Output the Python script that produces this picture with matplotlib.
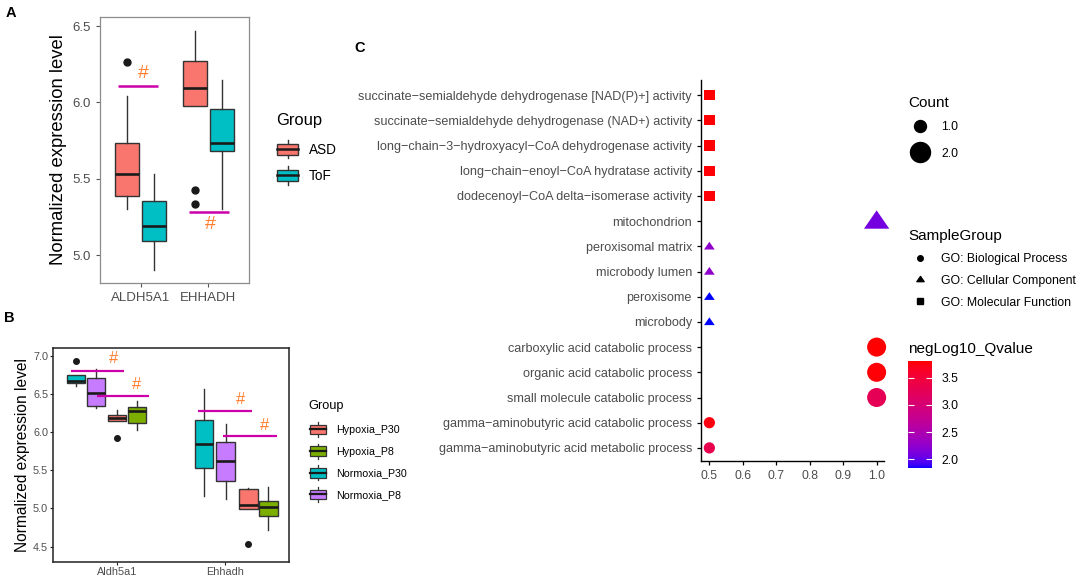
"""
Three-panel figure: two boxplot panels (A, B) and a GO enrichment dot plot (C).
"""
import numpy as np
import matplotlib
matplotlib.use("Agg")
import matplotlib.pyplot as plt
from matplotlib.patches import Rectangle
from matplotlib.lines import Line2D
from matplotlib.legend_handler import HandlerBase
from matplotlib.colors import ListedColormap, Normalize
from matplotlib.path import Path

plt.rcParams["font.family"] = ["Liberation Sans", "DejaVu Sans"]

# ── Panel A data (box stats: whislo, q1, median, q3, whishi) ──────────────────
A_GENES = ["ALDH5A1", "EHHADH"]
A_GROUPS = ["ASD", "ToF"]
asd_stats = [[5.30, 5.39, 5.53, 5.735, 6.04], [5.975, 5.977, 6.095, 6.27, 6.47]]
tof_stats = [[4.905, 5.095, 5.193, 5.356, 5.533], [5.30, 5.68, 5.735, 5.955, 6.147]]
asd_fliers = [[6.265], [5.428, 5.336]]
tof_fliers = [[], []]
a_sig_y = [6.11, 5.284]
a_hash_y = [6.19, 5.20]

# ── Panel B data ───────────────────────────────────────────────────────────────
B_GENES = ["Aldh5a1", "Ehhadh"]
B_GROUPS = ["Hypoxia_P30", "Hypoxia_P8", "Normoxia_P30", "Normoxia_P8"]
hyp_p30_stats = [[6.149, 6.149, 6.185, 6.224, 6.289], [4.99, 4.99, 5.042, 5.251, 5.272]]
hyp_p8_stats = [[6.027, 6.119, 6.28, 6.329, 6.403], [4.722, 4.902, 5.024, 5.102, 5.277]]
nor_p30_stats = [[6.607, 6.647, 6.673, 6.751, 6.751], [5.16, 5.526, 5.844, 6.154, 6.56]]
nor_p8_stats = [[6.315, 6.338, 6.508, 6.708, 6.822], [5.128, 5.364, 5.622, 5.871, 6.10]]
hyp_p30_fliers = [[5.919], [4.535]]
hyp_p8_fliers = [[], []]
nor_p30_fliers = [[6.93], []]
nor_p8_fliers = [[], []]
b_sig_y = [[6.80, 6.476], [6.276, 5.953]]
b_hash_y = [[6.96, 6.62], [6.42, 6.09]]

# ── Panel C data (top to bottom) ───────────────────────────────────────────────
c_terms = [
    "succinate\u2212semialdehyde dehydrogenase [NAD(P)+] activity",
    "succinate\u2212semialdehyde dehydrogenase (NAD+) activity",
    "long\u2212chain\u22123\u2212hydroxyacyl\u2212CoA dehydrogenase activity",
    "long\u2212chain\u2212enoyl\u2212CoA hydratase activity",
    "dodecenoyl\u2212CoA delta\u2212isomerase activity",
    "mitochondrion",
    "peroxisomal matrix",
    "microbody lumen",
    "peroxisome",
    "microbody",
    "carboxylic acid catabolic process",
    "organic acid catabolic process",
    "small molecule catabolic process",
    "gamma\u2212aminobutyric acid catabolic process",
    "gamma\u2212aminobutyric acid metabolic process",
]
c_ratio = [0.5, 0.5, 0.5, 0.5, 0.5, 1.0, 0.5, 0.5, 0.5, 0.5, 1.0, 1.0, 1.0, 0.5, 0.5]
c_count = [1, 1, 1, 1, 1, 2, 1, 1, 1, 1, 2, 2, 2, 1, 1]
c_qvalue = [3.80, 3.80, 3.80, 3.79, 3.78, 2.10, 2.25, 2.25, 1.84, 1.84,
            3.81, 3.79, 3.27, 3.76, 3.32]
c_group = ["MF"] * 5 + ["CC"] * 5 + ["BP"] * 5
GROUP_LABELS = {"BP": "GO: Biological Process", "CC": "GO: Cellular Component",
                "MF": "GO: Molecular Function"}

# ── Styles ─────────────────────────────────────────────────────────────────────
A_COLORS = {"ASD": "#F8766D", "ToF": "#00BFC4"}
B_COLORS = {"Hypoxia_P30": "#F8766D", "Hypoxia_P8": "#7CAE00",
            "Normoxia_P30": "#00BFC4", "Normoxia_P8": "#C77CFF"}
A_OFFSETS = {"ASD": -0.2, "ToF": 0.2}
B_OFFSETS = {  # per gene, per group (as drawn in the original)
    "Normoxia_P30": [-0.386, -0.19], "Normoxia_P8": [-0.201, 0.009],
    "Hypoxia_P30": [-0.005, 0.222], "Hypoxia_P8": [0.181, 0.408]}
A_SIG_X = [(0.666, 1.257), (1.715, 2.305)]
A_HASH_X = [1.035, 2.025]
B_SIG_X = [[(0.568, 1.062), (0.807, 1.292)], [(1.754, 2.255), (1.987, 2.485)]]
B_HASH_X = [[0.969, 1.176], [2.152, 2.369]]
SIG_COLOR = "#CC00AA"
HASH_COLOR = "#FF7F30"
GREY_TXT = "#4D4D4D"
EDGE = "#333333"

TRI = Path([(-1, -0.6), (1, -0.6), (0, 0.85), (-1, -0.6)],
           [Path.MOVETO, Path.LINETO, Path.LINETO, Path.CLOSEPOLY])
SHAPES = {"BP": "o", "CC": TRI, "MF": "s"}
SIZE_PT = {"BP": {1: 8.1, 2: 13.7}, "CC": {1: 7.7, 2: 18.2}, "MF": {1: 7.4, 2: 10.0}}


# blue -> red gradient interpolated in Lab space (like ggplot)
_M = np.array([[0.4124, 0.3576, 0.1805], [0.2126, 0.7152, 0.0722], [0.0193, 0.1192, 0.9505]])
_WP = np.array([0.95047, 1.0, 1.08883])


def to_lab(rgb):
    c = np.asarray(rgb, float)
    lin = np.where(c <= 0.04045, c / 12.92, ((c + 0.055) / 1.055) ** 2.4)
    xyz = _M @ lin / _WP
    f = np.where(xyz > 0.008856, np.cbrt(xyz), 7.787 * xyz + 16 / 116)
    return np.array([116 * f[1] - 16, 500 * (f[0] - f[1]), 200 * (f[1] - f[2])])


def from_lab(lab):
    fy = (lab[0] + 16) / 116
    f = np.array([fy + lab[1] / 500, fy, fy - lab[2] / 200])
    xyz = np.where(f ** 3 > 0.008856, f ** 3, (f - 16 / 116) / 7.787) * _WP
    lin = np.clip(np.linalg.solve(_M, xyz), 0, 1)
    return np.clip(np.where(lin <= 0.0031308, 12.92 * lin, 1.055 * lin ** (1 / 2.4) - 0.055), 0, 1)


lab0, lab1 = to_lab([0, 0, 1]), to_lab([1, 0, 0])
CMAP = ListedColormap([from_lab(lab0 + t * (lab1 - lab0)) for t in np.linspace(0, 1, 256)])


class BoxHandler(HandlerBase):
    def __init__(self, lo=0.2, hi=0.8, lw=1.0):
        super().__init__()
        self.lo, self.hi, self.lw = lo, hi, lw

    def create_artists(self, legend, orig_handle, xdescent, ydescent, width, height, fontsize, trans):
        x0, y0 = -xdescent, -ydescent
        fc = orig_handle.get_facecolor()
        cx = x0 + width / 2
        w1 = Line2D([cx, cx], [y0, y0 + self.lo * height], color=EDGE, lw=self.lw, transform=trans)
        w2 = Line2D([cx, cx], [y0 + self.hi * height, y0 + height], color=EDGE, lw=self.lw, transform=trans)
        box = Rectangle((x0, y0 + self.lo * height), width, (self.hi - self.lo) * height,
                        facecolor=fc, edgecolor=EDGE, lw=self.lw, transform=trans)
        med = Line2D([x0, x0 + width], [y0 + height / 2] * 2, color="#1A1A1A", lw=self.lw * 1.8,
                     transform=trans)
        return [w1, w2, box, med]


def draw_boxes(ax, stats, fliers, positions, color, width, lw, flier_ms):
    bstats = [dict(whislo=s[0], q1=s[1], med=s[2], q3=s[3], whishi=s[4], fliers=f)
              for s, f in zip(stats, fliers)]
    ax.bxp(bstats, positions=positions, widths=width, patch_artist=True, showcaps=False,
           manage_ticks=False,
           boxprops=dict(facecolor=color, edgecolor=EDGE, linewidth=lw),
           medianprops=dict(color="#1A1A1A", linewidth=lw * 1.9),
           whiskerprops=dict(color=EDGE, linewidth=lw),
           flierprops=dict(marker="o", markerfacecolor="#1A1A1A", markeredgecolor="#1A1A1A",
                           markersize=flier_ms))


W, H = 1084, 578
fig = plt.figure(figsize=(W / 100, H / 100), dpi=100)


def px_axes(l, t, r, b):
    return fig.add_axes([l / W, 1 - b / H, (r - l) / W, (b - t) / H])


def fx(x):
    return x / W


def fy(y):
    return 1 - y / H


# ── Panel A ────────────────────────────────────────────────────────────────────
axA = px_axes(100, 17, 249, 283)
for grp, stats, fl in [("ASD", asd_stats, asd_fliers), ("ToF", tof_stats, tof_fliers)]:
    pos = [i + 1 + A_OFFSETS[grp] for i in range(len(A_GENES))]
    draw_boxes(axA, stats, fl, pos, A_COLORS[grp], 0.355, 1.0, 5)
for (x0, x1), y, hx, hy in zip(A_SIG_X, a_sig_y, A_HASH_X, a_hash_y):
    axA.hlines(y, x0, x1, color=SIG_COLOR, lw=1.8, zorder=5)
    axA.text(hx, hy, "#", color=HASH_COLOR, fontsize=14, ha="center", va="center", zorder=5)
axA.set_xlim(0.4, 2.6)
axA.set_ylim(4.817, 6.559)
axA.set_xticks([1, 2])
axA.set_xticklabels(A_GENES)
axA.set_yticks([5.0, 5.5, 6.0, 6.5])
axA.tick_params(labelsize=9.5, labelcolor=GREY_TXT, color="#555555", length=3, width=0.8)
axA.set_ylabel("Normalized expression level", fontsize=13.3, labelpad=4)
for sp in axA.spines.values():
    sp.set_edgecolor("#8C8C8C")
    sp.set_linewidth(0.9)

a_handles = [Rectangle((0, 0), 1, 1, facecolor=A_COLORS[g]) for g in A_GROUPS]
legA = fig.legend(a_handles, A_GROUPS, loc="upper left", bbox_to_anchor=(fx(277), fy(140)),
                  frameon=False, fontsize=9.8, handlelength=1.55, handleheight=1.7,
                  handletextpad=0.8, labelspacing=0.57, borderpad=0, borderaxespad=0,
                  handler_map={Rectangle: BoxHandler(0.2, 0.8, 1.0)})
fig.text(fx(276), fy(121), "Group", fontsize=11.9, va="center", ha="left")

# ── Panel B ────────────────────────────────────────────────────────────────────
axB = px_axes(53, 348, 289, 562)
b_series = [("Normoxia_P30", nor_p30_stats, nor_p30_fliers),
            ("Normoxia_P8", nor_p8_stats, nor_p8_fliers),
            ("Hypoxia_P30", hyp_p30_stats, hyp_p30_fliers),
            ("Hypoxia_P8", hyp_p8_stats, hyp_p8_fliers)]
for grp, stats, fl in b_series:
    pos = [i + 1 + B_OFFSETS[grp][i] for i in range(len(B_GENES))]
    draw_boxes(axB, stats, fl, pos, B_COLORS[grp], 0.172, 1.0, 4)
for gi in range(len(B_GENES)):
    for (x0, x1), y, hx, hy in zip(B_SIG_X[gi], b_sig_y[gi], B_HASH_X[gi], b_hash_y[gi]):
        axB.hlines(y, x0, x1, color=SIG_COLOR, lw=1.6, zorder=5)
        axB.text(hx, hy, "#", color=HASH_COLOR, fontsize=12, ha="center", va="center", zorder=5)
axB.set_xlim(0.4, 2.6)
axB.set_ylim(4.30, 7.10)
axB.set_xticks([1, 2])
axB.set_xticklabels(B_GENES)
axB.set_yticks([4.5, 5.0, 5.5, 6.0, 6.5, 7.0])
axB.tick_params(labelsize=7.8, labelcolor=GREY_TXT, color="#222222", length=2, width=0.8, pad=1.5)
axB.set_ylabel("Normalized expression level", fontsize=11.2, labelpad=2)
for sp in axB.spines.values():
    sp.set_edgecolor("#222222")
    sp.set_linewidth(1.1)

b_handles = [Rectangle((0, 0), 1, 1, facecolor=B_COLORS[g]) for g in B_GROUPS]
legB = fig.legend(b_handles, B_GROUPS, loc="upper left", bbox_to_anchor=(fx(310), fy(422)),
                  frameon=False, fontsize=7.7, handlelength=1.5, handleheight=1.78,
                  handletextpad=0.9, labelspacing=0.62, borderpad=0, borderaxespad=0,
                  handler_map={Rectangle: BoxHandler(0.18, 0.82, 0.9)})
fig.text(fx(308), fy(406), "Group", fontsize=9.2, va="center", ha="left")

# ── Panel C ────────────────────────────────────────────────────────────────────
axC = px_axes(701, 80, 884, 461)
n = len(c_terms)
ypos = np.arange(n)[::-1]
norm = Normalize(min(c_qvalue), max(c_qvalue))
for grp, marker in SHAPES.items():
    idx = [i for i in range(n) if c_group[i] == grp]
    axC.scatter([c_ratio[i] for i in idx], ypos[idx],
                s=[SIZE_PT[grp][c_count[i]] ** 2 for i in idx],
                c=[c_qvalue[i] for i in idx], cmap=CMAP, norm=norm, marker=marker,
                linewidths=0, zorder=3, clip_on=False)
axC.set_xlim(0.475, 1.022)
axC.set_ylim(-0.52, n - 1 + 0.6)
axC.set_yticks(ypos)
axC.set_yticklabels(c_terms, fontsize=9.1)
axC.set_xticks([0.5, 0.6, 0.7, 0.8, 0.9, 1.0])
axC.tick_params(axis="x", labelsize=8.8)
axC.tick_params(labelcolor=GREY_TXT, color="black", length=3, width=0.9)
axC.spines["top"].set_visible(False)
axC.spines["right"].set_visible(False)
for sp in ("left", "bottom"):
    axC.spines[sp].set_linewidth(1.0)

# colourbar
cax = px_axes(908, 361, 932, 468)
sm = plt.cm.ScalarMappable(norm=norm, cmap=CMAP)
cb = fig.colorbar(sm, cax=cax, ticks=[2.0, 2.5, 3.0, 3.5])
cb.outline.set_visible(False)
cb.ax.yaxis.set_ticks_position("both")
cb.ax.tick_params(direction="in", color="white", length=4, width=0.8,
                  labelsize=8.8, labelcolor="black", labelleft=False, labelright=True, pad=7)
fig.text(fx(908), fy(349), "negLog10_Qvalue", fontsize=11, va="center", ha="left")

# Count legend
cnt_handles = [Line2D([], [], ls="", marker="o", color="black", markersize=ms) for ms in (8.6, 14.4)]
fig.legend(cnt_handles, ["1.0", "2.0"], loc="upper left", bbox_to_anchor=(fx(908), fy(121)),
           frameon=False, fontsize=8.8, handlelength=2.0, handletextpad=0.74,
           labelspacing=1.2, borderpad=0, borderaxespad=0)
fig.text(fx(908), fy(103), "Count", fontsize=11, va="center", ha="left")

# SampleGroup legend
shape_handles = [Line2D([], [], ls="", marker=SHAPES[g], color="black",
                        markersize={"BP": 4.0, "CC": 5.2, "MF": 3.8}[g]) for g in GROUP_LABELS]
fig.legend(shape_handles, list(GROUP_LABELS.values()), loc="upper left",
           bbox_to_anchor=(fx(908), fy(253)), frameon=False, fontsize=8.8, handlelength=2.0,
           handletextpad=0.74, labelspacing=0.8, borderpad=0, borderaxespad=0)
fig.text(fx(908), fy(236), "SampleGroup", fontsize=11, va="center", ha="left")

# panel letters
fig.text(fx(6), fy(6), "A", fontsize=10.5, fontweight="bold", va="top")
fig.text(fx(4), fy(311), "B", fontsize=10.5, fontweight="bold", va="top")
fig.text(fx(354), fy(41), "C", fontsize=10.5, fontweight="bold", va="top")

fig.savefig("out.png", dpi=100)
